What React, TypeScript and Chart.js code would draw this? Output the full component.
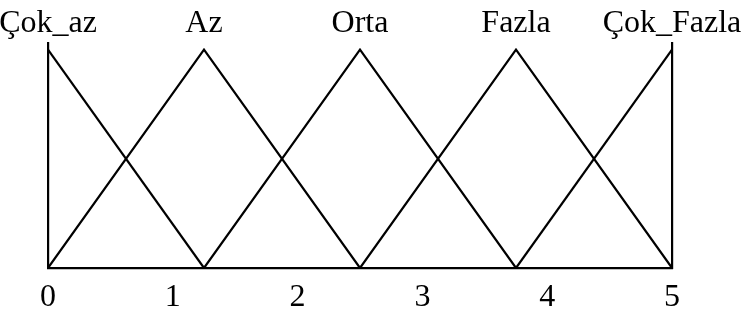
import React, { useEffect, useRef } from "react";
import { Chart, registerables } from "chart.js";

Chart.register(...registerables);

// Fuzzy set names (top labels) and their peak positions
const setNames = ["Çok_az", "Az", "Orta", "Fazla", "Çok_Fazla"];
const peaks = [0, 1.25, 2.5, 3.75, 5];
// Bottom tick labels
const xTicks = [0, 1, 2, 3, 4, 5];

// Membership function vertices [x, y]
const cokAz = [[0, 1], [1.25, 0]];
const az = [[0, 0], [1.25, 1], [2.5, 0]];
const orta = [[1.25, 0], [2.5, 1], [3.75, 0]];
const fazla = [[2.5, 0], [3.75, 1], [5, 0]];
const cokFazla = [[3.75, 0], [5, 1]];

const FONT = "'Liberation Serif', 'Times New Roman', serif";

export default function App() {
  const ref = useRef<HTMLCanvasElement | null>(null);

  useEffect(() => {
    if (!ref.current) return;
    const series = [cokAz, az, orta, fazla, cokFazla];
    const zeroPad = (axis: any) => {
      axis.paddingLeft = 0;
      axis.paddingRight = 0;
      axis.paddingTop = 0;
      axis.paddingBottom = 0;
    };
    const chart = new Chart(ref.current, {
      type: "line",
      data: {
        datasets: series.map((s, i) => ({
          label: setNames[i],
          data: s.map(([x, y]) => ({ x, y })),
          borderColor: "#000",
          borderWidth: 2.2,
          pointRadius: 0,
          tension: 0,
          fill: false,
        })),
      },
      options: {
        animation: false,
        responsive: false,
        layout: { padding: { left: 48, right: 75, top: 3, bottom: 6 } },
        plugins: { legend: { display: false }, tooltip: { enabled: false } },
        scales: {
          x: {
            type: "linear",
            position: "bottom",
            min: 0,
            max: 5,
            afterBuildTicks: (axis: any) => {
              axis.ticks = xTicks.map((v) => ({ value: v }));
            },
            afterFit: (axis: any) => {
              axis.height = 48;
              zeroPad(axis);
            },
            grid: { display: false, drawTicks: false },
            border: { display: true, color: "#000", width: 2.2 },
            ticks: {
              color: "#000",
              padding: 10,
              maxRotation: 0,
              autoSkip: false,
              font: { family: FONT, size: 32 },
              callback: (v: any) => String(v),
            },
          },
          x2: {
            type: "linear",
            position: "top",
            min: 0,
            max: 5,
            afterBuildTicks: (axis: any) => {
              axis.ticks = peaks.map((v) => ({ value: v }));
            },
            afterFit: (axis: any) => {
              axis.height = 40;
              zeroPad(axis);
            },
            grid: { display: false, drawTicks: false },
            border: { display: false },
            ticks: {
              color: "#000",
              padding: 0,
              maxRotation: 0,
              autoSkip: false,
              font: { family: FONT, size: 32 },
              callback: (v: any) => {
                const i = peaks.indexOf(Number(v));
                return i >= 0 ? setNames[i] : "";
              },
            },
          },
          y: {
            type: "linear",
            position: "left",
            min: 0,
            max: 1.03,
            afterFit: (axis: any) => {
              axis.width = 0;
              zeroPad(axis);
            },
            grid: { display: false, drawTicks: false },
            border: { display: true, color: "#000", width: 2.2 },
            ticks: { display: false },
          },
          y2: {
            type: "linear",
            position: "right",
            min: 0,
            max: 1.03,
            afterFit: (axis: any) => {
              axis.width = 0;
              zeroPad(axis);
            },
            grid: { display: false, drawTicks: false },
            border: { display: true, color: "#000", width: 2.2 },
            ticks: { display: false },
          },
        },
      },
    });
    return () => chart.destroy();
  }, []);

  return (
    <div style={{ position: "fixed", left: 0, top: 0, width: 747, height: 322, background: "#fff" }}>
      <canvas ref={ref} width={747} height={322} style={{ display: "block" }} />
    </div>
  );
}
